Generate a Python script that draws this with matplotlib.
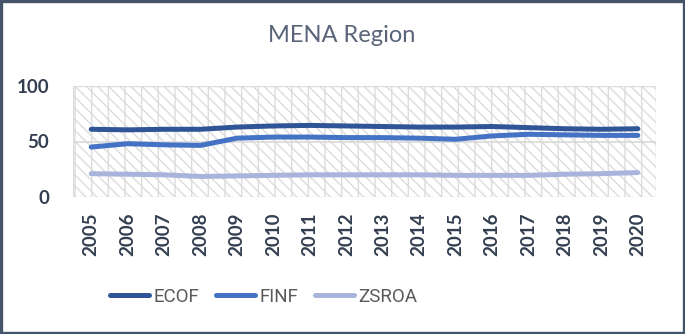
import matplotlib
matplotlib.use("Agg")
import matplotlib.pyplot as plt
from matplotlib.patches import Rectangle
from matplotlib.lines import Line2D

years = ["2005", "2006", "2007", "2008", "2009", "2010", "2011", "2012",
         "2013", "2014", "2015", "2016", "2017", "2018", "2019", "2020"]
ecof = [61, 60.5, 61, 61, 63, 64, 64.5, 64, 63.5, 63, 63, 63.5, 62.5, 61.5, 61, 61.5]
finf = [45, 48, 47, 46.5, 53, 54, 54, 53.5, 53.5, 53, 52, 55, 56.5, 56, 55.5, 55.5]
zsroa = [21, 20.5, 20, 18.5, 19, 19.5, 20, 20, 20, 20, 19.5, 19.5, 19.5, 20.5, 21, 22]
series_names = ["ECOF", "FINF", "ZSROA"]
yticks = [0, 50, 100]

colors = ["#2F5597", "#4472C4", "#A9B4DD"]
text_dark = "#333F50"
grey_text = "#595959"

W, H = 685, 334
fig = plt.figure(figsize=(W / 100, H / 100), dpi=100)
fig.patch.set_facecolor("white")

# Outer chart frame
fig.patches.append(Rectangle((0.002, 0.004), 0.996, 0.992, transform=fig.transFigure,
                             fill=False, edgecolor="#44546A", linewidth=2.4, zorder=10))

ax = fig.add_axes([73 / W, 1 - 197 / H, (656 - 73) / W, (197 - 86) / H])
ax.set_xlim(-0.5, len(years) - 0.5)
ax.set_ylim(0, 100)

# Patterned plot area
ax.add_patch(Rectangle((0, 0), 1, 1, transform=ax.transAxes, facecolor="white",
                       edgecolor="#DCDCDC", hatch="\\\\\\|", linewidth=1.0, zorder=0))
ax.axhline(50, color="#D9D9D9", linewidth=1.2, zorder=1)

x = list(range(len(years)))
for vals, c in zip([ecof, finf, zsroa], colors):
    ax.plot(x, vals, color=c, linewidth=3.6, solid_capstyle="round", zorder=3)

for s in ax.spines.values():
    s.set_visible(False)
ax.set_xticks(x)
ax.set_xticklabels(years, rotation=90, fontsize=13.5, fontweight="bold",
                   color=text_dark, family=["Lato", "DejaVu Sans"])
ax.set_yticks(yticks)
ax.set_yticklabels([str(v) for v in yticks], fontsize=13.5, fontweight="bold",
                   color=text_dark, family=["Lato", "DejaVu Sans"])
ax.tick_params(axis="both", length=0)
ax.tick_params(axis="y", pad=17)
ax.tick_params(axis="x", pad=11)

fig.text(342 / W, 1 - 35 / H, "MENA Region", ha="center", va="center",
         fontsize=17, fontweight="normal", color="#5A6478", family=["Lato", "DejaVu Sans"])

handles = [Line2D([0], [0], color=c, linewidth=3.6, solid_capstyle="round") for c in colors]
fig.legend(handles, series_names, loc="center", bbox_to_anchor=(263.5 / W, 1 - 296.5 / H),
           ncol=3, frameon=False, handlelength=2.1, handletextpad=0.22, columnspacing=0.9,
           prop={"family": ["Roboto", "DejaVu Sans"], "size": 13.5},
           labelcolor=grey_text)

fig.savefig("out.png", dpi=100, facecolor="white")
